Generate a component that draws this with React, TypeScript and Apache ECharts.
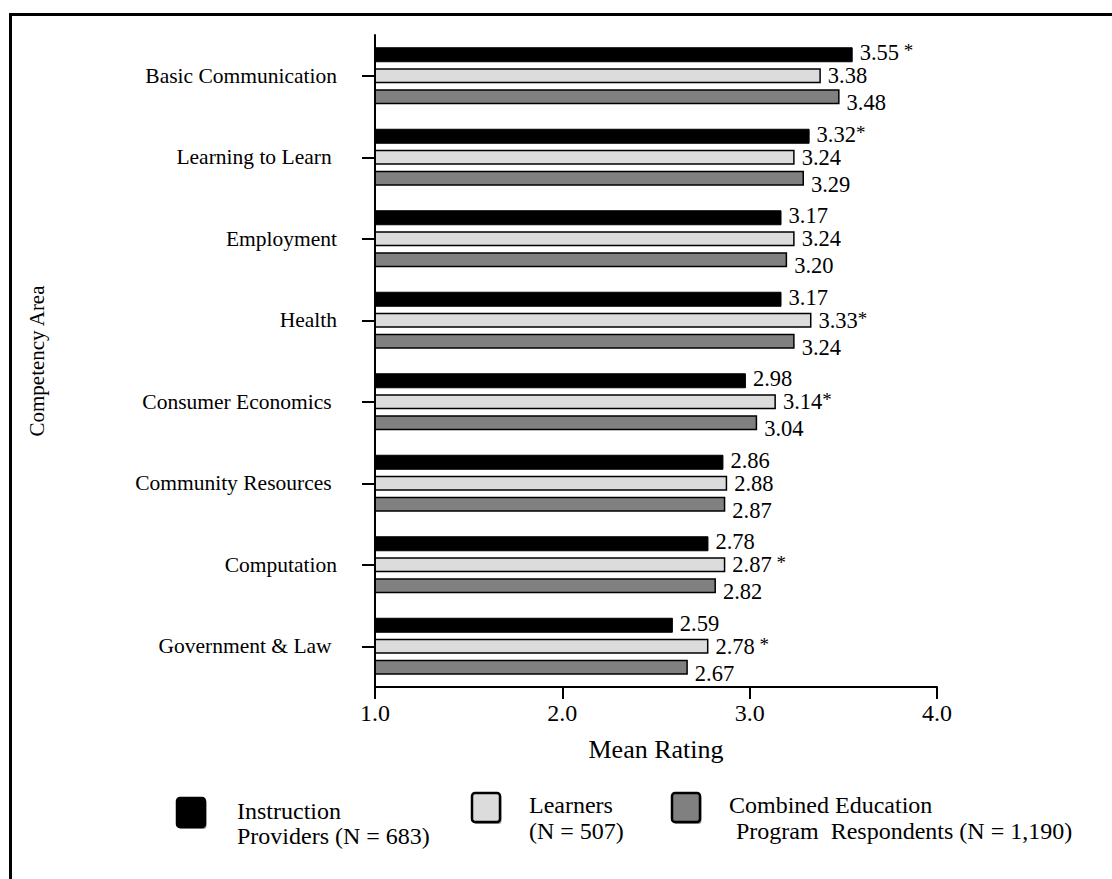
import React, { useEffect, useRef } from "react";
import * as echarts from "echarts";

const categories = [
  "Basic Communication",
  "Learning to Learn ",
  "Employment",
  "Health",
  "Consumer Economics ",
  "Community Resources ",
  "Computation",
  "Government & Law ",
];
const instructionProviders = [3.55, 3.32, 3.17, 3.17, 2.98, 2.86, 2.78, 2.59];
const learners = [3.38, 3.24, 3.24, 3.33, 3.14, 2.88, 2.87, 2.78];
const combined = [3.48, 3.29, 3.2, 3.24, 3.04, 2.87, 2.82, 2.67];
const instructionMarks = [" *", "*", "", "", "", "", "", ""];
const learnerMarks = ["", "", "", "*", "*", "", " *", " *"];
const combinedMarks = ["", "", "", "", "", "", "", ""];
const xMin = 1;
const xMax = 4;
const xInterval = 1;

const SERIF = "'Liberation Serif', 'Times New Roman', serif";

function makeLabel(values: number[], marks: string[], dy: number) {
  return {
    show: true,
    position: "right",
    distance: 7,
    offset: [0, dy],
    fontFamily: SERIF,
    formatter: (p: any) => {
      const m = marks[p.dataIndex];
      return `{v|${values[p.dataIndex].toFixed(2)}}` + (m ? `{s|${m}}` : "");
    },
    rich: {
      v: { fontFamily: SERIF, fontSize: 22.5, color: "#000", lineHeight: 18 },
      s: { fontFamily: SERIF, fontSize: 19, color: "#000", lineHeight: 18, padding: [0, 0, 4, 0] },
    },
  };
}

export default function App() {
  const ref = useRef<HTMLDivElement>(null);
  useEffect(() => {
    if (!ref.current) return;
    const chart = echarts.init(ref.current, null, { renderer: "svg" });
    const legendText = (x: number, y: number, text: string) => ({
      type: "text",
      x,
      y,
      style: { text, fontFamily: SERIF, fontSize: 24, fill: "#000", verticalAlign: "middle", align: "left" },
    });
    const legendBox = (x: number, y: number, w: number, h: number, fill: string) => ({
      type: "group",
      children: [
        { type: "rect", shape: { x: x + 1.5, y: y + 2, width: w, height: h, r: 3 }, style: { fill: "#999", stroke: "none" } },
        { type: "rect", shape: { x, y, width: w, height: h, r: 3 }, style: { fill, stroke: "#000", lineWidth: 2.5 } },
      ],
    });
    chart.setOption({
      animation: false,
      backgroundColor: "#fff",
      grid: { left: 375, right: 175, top: 35, bottom: 192, containLabel: false },
      xAxis: {
        type: "value",
        min: xMin,
        max: xMax,
        interval: xInterval,
        z: 5,
        name: "Mean Rating",
        nameLocation: "middle",
        nameGap: 49,
        nameTextStyle: { fontFamily: SERIF, fontSize: 26, color: "#000" },
        axisLine: { show: true, onZero: false, lineStyle: { color: "#000", width: 2 } },
        axisTick: { show: true, length: 12, lineStyle: { color: "#000", width: 2 } },
        axisLabel: {
          margin: 14,
          fontFamily: SERIF,
          fontSize: 24,
          color: "#000",
          formatter: (v: number) => v.toFixed(1),
        },
        splitLine: { show: false },
      },
      yAxis: {
        type: "category",
        data: categories,
        inverse: true,
        z: 5,
        name: "Competency Area",
        nameLocation: "middle",
        nameGap: 328,
        nameRotate: 90,
        nameTextStyle: { fontFamily: SERIF, fontSize: 21, color: "#000" },
        axisLine: { show: true, lineStyle: { color: "#000", width: 2 } },
        axisTick: { show: true, alignWithLabel: true, length: 13, lineStyle: { color: "#000", width: 2 } },
        axisLabel: { margin: 38, fontFamily: SERIF, fontSize: 21.5, color: "#000" },
      },
      series: [
        {
          name: "Instruction Providers (N = 683)",
          type: "bar",
          data: instructionProviders,
          barWidth: 15,
          barGap: "40%",
          itemStyle: { color: "#000", borderColor: "#000", borderWidth: 1 },
          label: makeLabel(instructionProviders, instructionMarks, -2),
        },
        {
          name: "Learners (N = 507)",
          type: "bar",
          data: learners,
          barWidth: 15,
          barGap: "40%",
          itemStyle: { color: "#dcdcdc", borderColor: "#000", borderWidth: 1.5 },
          label: makeLabel(learners, learnerMarks, 0),
        },
        {
          name: "Combined Education Program Respondents (N = 1,190)",
          type: "bar",
          data: combined,
          barWidth: 15,
          barGap: "40%",
          itemStyle: { color: "#808080", borderColor: "#000", borderWidth: 1.5 },
          label: makeLabel(combined, combinedMarks, 6),
        },
      ],
      graphic: [
        {
          type: "rect",
          shape: { x: 10.5, y: 14.5, width: 1300, height: 1000 },
          style: { fill: "none", stroke: "#000", lineWidth: 3 },
          silent: true,
        },
        legendBox(177, 798, 28, 29, "#000"),
        legendText(237, 811, "Instruction"),
        legendText(237, 836, "Providers (N = 683)"),
        legendBox(472, 793, 28, 29, "#dcdcdc"),
        legendText(529, 805, "Learners"),
        legendText(529, 831, "(N = 507)"),
        legendBox(672, 793, 28, 29, "#808080"),
        legendText(729, 805, "Combined Education"),
        legendText(736, 831, "Program  Respondents (N = 1,190)"),
      ],
    });
    return () => chart.dispose();
  }, []);
  return (
    <div
      ref={ref}
      style={{ position: "fixed", left: 0, top: 0, width: 1112, height: 879, background: "#fff" }}
    />
  );
}
